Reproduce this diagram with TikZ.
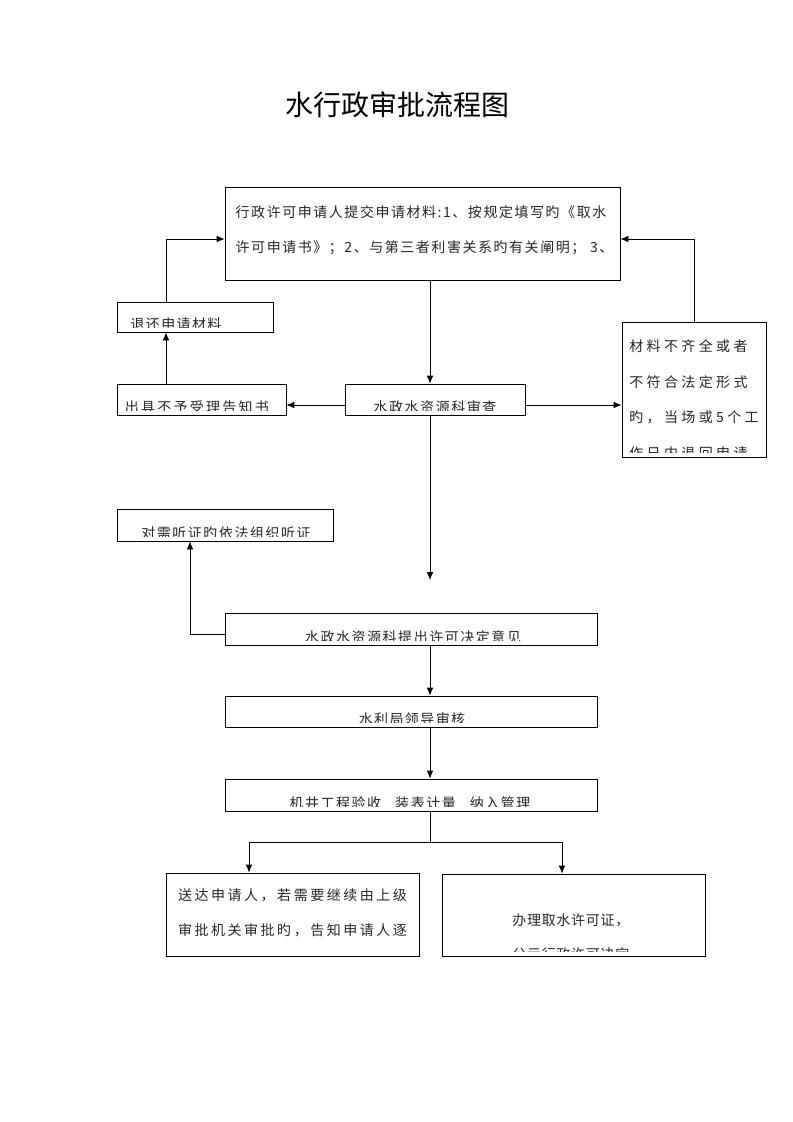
\documentclass[tikz,border=0pt]{standalone}
\usepackage{fontspec}
\setmainfont{Noto Sans CJK SC}
\usetikzlibrary{arrows.meta}

\begin{document}
\begin{tikzpicture}[x=0.75pt,y=-0.75pt,line width=0.6pt,>={Latex[length=6pt,width=5pt]},
  box/.style={draw,inner sep=0pt},
  say/.style n args={4}{path picture={
      \clip ([yshift=3.75pt]path picture bounding box.south west) rectangle (path picture bounding box.north east);
      \node[inner sep=0pt,minimum size=0pt,align=left,text=black!85,
        font={\fontsize{10.5}{#2}\selectfont\addfontfeatures{LetterSpace=#1}}]
        at ([shift={#3}]path picture bounding box.center) {#4};}}]
\useasboundingbox (0,0) rectangle (793,1122);

  \node[font=\fontsize{21}{25}\selectfont] (t) at (397,105) {水行政审批流程图};

  \node[box,minimum width=296.25pt,minimum height=69.75pt,
    say={11}{26.25}{(1.5pt,2.25pt)}{行政许可申请人提交申请材料:1、按规定填写旳《取水\\许可申请书》；2、与第三者利害关系旳有关阐明；\ 3、}] (0) at (422.5,233.5) {};
  \node[box,minimum width=117pt,minimum height=22.5pt,
    say={10}{12}{(-14.25pt,-5.5pt)}{退还申请材料}] (1) at (195,317) {};
  \node[box,minimum width=126.75pt,minimum height=23.25pt,
    say={16}{12}{(-3.5pt,-5.75pt)}{出具不予受理告知书}] (2) at (201.5,399.5) {};
  \node[box,minimum width=135pt,minimum height=23.25pt,
    say={11}{12}{(0pt,-5.75pt)}{水政水资源科审查}] (3) at (435,399.5) {};
  \node[box,minimum width=108pt,minimum height=101.25pt,
    say={24}{26.6}{(0pt,-7.5pt)}{材料不齐全或者\\不符合法定形式\\旳，当场或5个工\\作日内退回申请}] (4) at (694,389.5) {};
  \node[box,minimum width=162pt,minimum height=24pt,
    say={11}{12}{(0.75pt,-6pt)}{对需听证旳依法组织听证}] (5) at (225,525) {};
  \node[box,minimum width=279pt,minimum height=24pt,
    say={11}{12}{(1.5pt,-6pt)}{水政水资源科提出许可决定意见}] (6) at (411,629) {};
  \node[box,minimum width=279pt,minimum height=23.25pt,
    say={10}{12}{(0.75pt,-5.75pt)}{水利局领导审核}] (7) at (411,711.5) {};
  \node[box,minimum width=279pt,minimum height=24pt,
    say={11}{12}{(-0.75pt,-6pt)}{机井工程验收\quad 装表计量\quad 纳入管理}] (8) at (411,795) {};
  \node[box,minimum width=189.75pt,minimum height=62.25pt,
    say={18}{26.25}{(0pt,1.5pt)}{送达申请人，若需要继续由上级\\审批机关审批旳，告知申请人逐}] (9) at (292.5,914.5) {};
  \node[box,minimum width=197.25pt,minimum height=61.5pt,
    say={5}{25.5}{(-2pt,-16.5pt)}{办理取水许可证，\\公示行政许可决定}] (10) at (573.5,915) {};

  % helper points for the connectors
  \coordinate (axis) at (430,0);
  \coordinate (ret) at (166,239);
  \coordinate (mid) at (0,405);
  \coordinate (gap) at (430,580);
  \coordinate (hear) at (190,634);
  \coordinate (fork) at (430,842);
  \coordinate (fl) at (249,842);
  \coordinate (fr) at (562,842);

  \draw[->] (0.south -| axis) -- (3.north -| axis);
  \draw[->] (3.west |- mid) -- (2.east |- mid);
  \draw[->] (3.east |- mid) -- (4.west |- mid);
  \draw[->] (2.north -| ret) -- (1.south -| ret);
  \draw[->] (1.north -| ret) |- (0.west |- ret);
  \draw[->] (4.north) |- (0.east |- ret);
  \draw[->] (3.south -| axis) -- (gap);
  \draw[->] (6.west |- hear) -| (5.south -| hear);
  \draw[->] (6.south -| axis) -- (7.north -| axis);
  \draw[->] (7.south -| axis) -- (8.north -| axis);
  \draw (8.south -| axis) -- (fork);
  \draw[->] (fork) -| (9.north -| fl);
  \draw[->] (fork) -| (10.north -| fr);
\end{tikzpicture}
\end{document}
